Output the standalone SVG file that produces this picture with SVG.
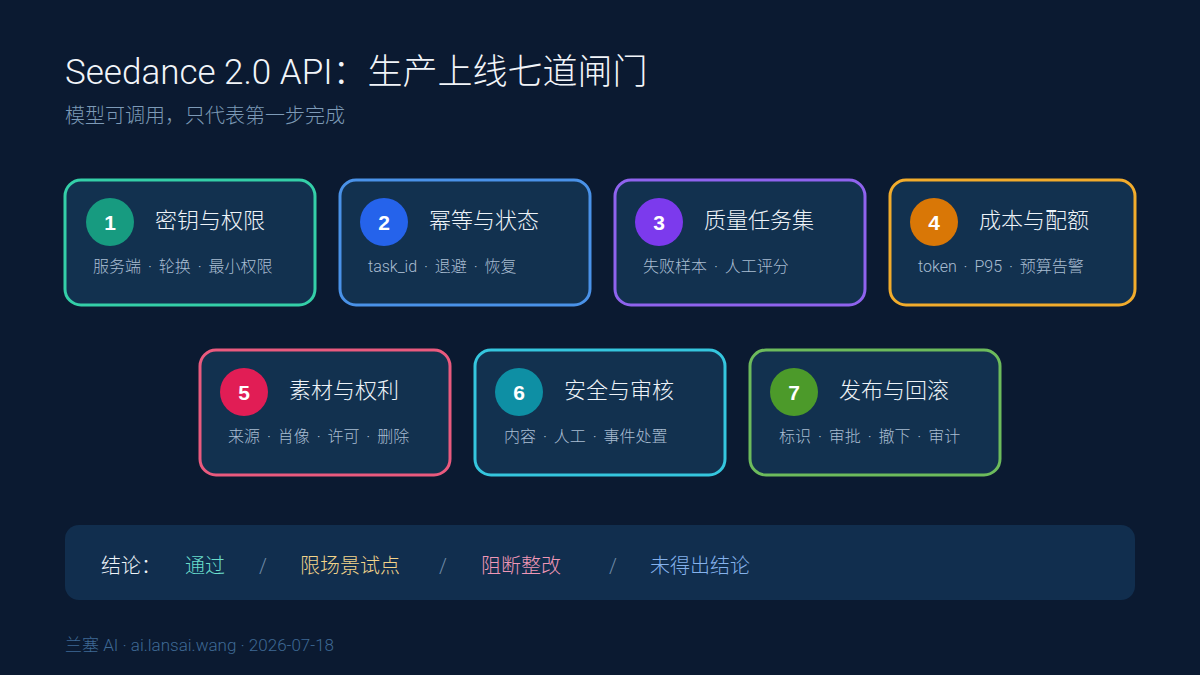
<svg xmlns="http://www.w3.org/2000/svg" width="1200" height="675" viewBox="0 0 1200 675">
<style>
text{font-family:Roboto,"Noto Sans CJK SC",sans-serif;font-weight:300}
.card{fill:#12314f;stroke-width:3}
.num{font-family:"Liberation Sans",Arial,sans-serif;font-weight:bold;font-size:21px;fill:#fff;text-anchor:middle}
.ttl{font-size:22px;fill:#eef3f8}
.sub{font-size:16px;fill:#a9bdd2;word-spacing:3px}
.bar{font-size:20px}
</style>
<rect width="1200" height="675" fill="#0b1a31"/>
<text x="65" y="84" font-size="35" fill="#f2f5f9">Seedance 2.0 API：生产上线七道闸门</text>
<text x="65" y="123" font-size="20" fill="#7d9ab7">模型可调用，只代表第一步完成</text>

<g id="n1"><rect class="card" x="65" y="180" width="250" height="125" rx="16" stroke="#34cfa8"/><circle cx="110" cy="222" r="24" fill="#179b80"/><text class="num" x="110" y="229.5">1</text><text class="ttl" x="155" y="228">密钥与权限</text><text class="sub" x="93" y="272">服务端 · 轮换 · 最小权限</text></g>
<g id="n2"><rect class="card" x="340" y="180" width="250" height="125" rx="16" stroke="#4a92e8"/><circle cx="384" cy="222" r="24" fill="#2563eb"/><text class="num" x="384" y="229.5">2</text><text class="ttl" x="429" y="228">幂等与状态</text><text class="sub" x="368" y="272">task_id · 退避 · 恢复</text></g>
<g id="n3"><rect class="card" x="615" y="180" width="250" height="125" rx="16" stroke="#8f63ee"/><circle cx="659" cy="222" r="24" fill="#7c3aed"/><text class="num" x="659" y="229.5">3</text><text class="ttl" x="704" y="228">质量任务集</text><text class="sub" x="643" y="272">失败样本 · 人工评分</text></g>
<g id="n4"><rect class="card" x="890" y="180" width="245" height="125" rx="16" stroke="#f2ac2c"/><circle cx="934" cy="222" r="24" fill="#d97706"/><text class="num" x="934" y="229.5">4</text><text class="ttl" x="979" y="228">成本与配额</text><text class="sub" x="918" y="272">token · P95 · 预算告警</text></g>
<g id="n5"><rect class="card" x="200" y="350" width="250" height="125" rx="16" stroke="#ea5a7e"/><circle cx="244" cy="392" r="24" fill="#e11d55"/><text class="num" x="244" y="399.5">5</text><text class="ttl" x="289" y="398">素材与权利</text><text class="sub" x="228" y="442">来源 · 肖像 · 许可 · 删除</text></g>
<g id="n6"><rect class="card" x="475" y="350" width="250" height="125" rx="16" stroke="#35c6de"/><circle cx="519" cy="392" r="24" fill="#0e8fa4"/><text class="num" x="519" y="399.5">6</text><text class="ttl" x="564" y="398">安全与审核</text><text class="sub" x="504" y="442">内容 · 人工 · 事件处置</text></g>
<g id="n7"><rect class="card" x="750" y="350" width="250" height="125" rx="16" stroke="#6dbb5c"/><circle cx="794" cy="392" r="24" fill="#4c9a2a"/><text class="num" x="794" y="399.5">7</text><text class="ttl" x="839" y="398">发布与回滚</text><text class="sub" x="779" y="442">标识 · 审批 · 撤下 · 审计</text></g>

<g id="conclusion">
<rect x="65" y="525" width="1070" height="75" rx="14" fill="#112e4e"/>
<text class="bar" x="101" y="573" fill="#eef3f8">结论：</text>
<text class="bar" x="185" y="573" fill="#6adccb">通过</text>
<text class="bar" x="259" y="573" fill="#6e89a6">/</text>
<text class="bar" x="300" y="573" fill="#f3d48a">限场景试点</text>
<text class="bar" x="439" y="573" fill="#6e89a6">/</text>
<text class="bar" x="481" y="573" fill="#f097b6">阻断整改</text>
<text class="bar" x="609" y="573" fill="#6e89a6">/</text>
<text class="bar" x="650" y="573" fill="#85b2ec">未得出结论</text>
</g>
<g id="connectors"/>
<text x="65" y="651" font-size="17" fill="#3e6994">兰塞 AI · ai.lansai.wang · 2026-07-18</text>
</svg>
